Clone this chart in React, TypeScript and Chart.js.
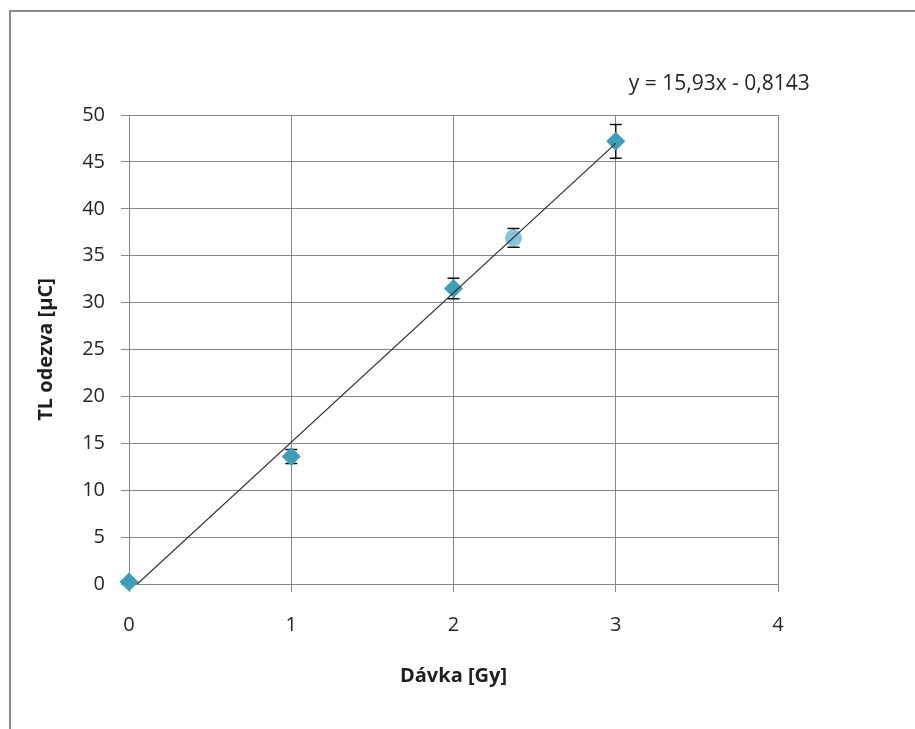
import React, { useEffect, useRef } from "react";
import { Chart, registerables } from "chart.js";

Chart.register(...registerables);

// Data
const doseValues = [0, 1, 2, 2.37, 3];
const responseValues = [0.2, 13.6, 31.5, 36.9, 47.2];
const errorValues = [0, 0.75, 1.1, 1.0, 1.8];
const trendSlope = 15.93;
const trendIntercept = -0.8143;
const trendRange = [0, 3];
const equationLabel = "y = 15,93x - 0,8143";
const xTitle = "Dávka [Gy]";
const yTitle = "TL odezva [µC]";

const FONT = "'Open Sans', Lato, sans-serif";
const GRID = "#878787";
const MARKER = "#3f9db6";
const TEXT = "#262626";

export default function App() {
  const ref = useRef<HTMLCanvasElement>(null);

  useEffect(() => {
    if (!ref.current) return;

    const frame = {
      id: "frame",
      beforeDraw(chart: any) {
        const { ctx } = chart;
        ctx.save();
        ctx.fillStyle = "#ffffff";
        ctx.fillRect(0, 0, chart.width, chart.height);
        ctx.strokeStyle = "#8c8c8c";
        ctx.lineWidth = 2;
        ctx.strokeRect(10, 11, chart.width + 20, chart.height + 20);
        ctx.restore();
      },
    };

    const errorBars = {
      id: "errorBars",
      beforeDatasetsDraw(chart: any) {
        const { ctx } = chart;
        const xs = chart.scales.x;
        const ys = chart.scales.y;
        ctx.save();
        ctx.strokeStyle = "#111111";
        ctx.lineWidth = 1.5;
        doseValues.forEach((d, i) => {
          const e = errorValues[i];
          if (!e) return;
          const px = xs.getPixelForValue(d);
          const top = ys.getPixelForValue(responseValues[i] + e);
          const bot = ys.getPixelForValue(responseValues[i] - e);
          ctx.beginPath();
          ctx.moveTo(px, top);
          ctx.lineTo(px, bot);
          ctx.moveTo(px - 6, top);
          ctx.lineTo(px + 6, top);
          ctx.moveTo(px - 6, bot);
          ctx.lineTo(px + 6, bot);
          ctx.stroke();
        });
        ctx.restore();
      },
    };

    const equation = {
      id: "equation",
      afterDraw(chart: any) {
        const { ctx } = chart;
        const xs = chart.scales.x;
        ctx.save();
        ctx.font = `21px ${FONT}`;
        ctx.fillStyle = TEXT;
        ctx.textAlign = "left";
        ctx.textBaseline = "middle";
        ctx.fillText(equationLabel, xs.getPixelForValue(3) + 13, chart.chartArea.top - 31);
        ctx.restore();
      },
    };

    const chart = new Chart(ref.current, {
      type: "scatter",
      data: {
        datasets: [
          {
            type: "line",
            label: "trend",
            data: trendRange.map((x) => ({ x, y: trendSlope * x + trendIntercept })),
            borderColor: "#2b2b2b",
            borderWidth: 1.2,
            pointRadius: 0,
            fill: false,
          } as any,
          {
            label: "TL odezva",
            data: doseValues.map((x, i) => ({ x, y: responseValues[i] })),
            pointStyle: doseValues.map((_, i) => (i === 3 ? "circle" : "rectRot")),
            pointRadius: doseValues.map((_, i) => (i === 3 ? 8.5 : 9.5)),
            backgroundColor: doseValues.map((_, i) => (i === 3 ? "#86c4d6" : MARKER)),
            borderColor: doseValues.map((_, i) => (i === 3 ? "#86c4d6" : MARKER)),
            borderWidth: 0,
            clip: false,
          } as any,
        ],
      },
      options: {
        responsive: false,
        animation: false,
        layout: { padding: { left: 0, top: 115, right: 137, bottom: 0 } },
        plugins: {
          legend: { display: false },
          tooltip: { enabled: false },
        },
        scales: {
          x: {
            type: "linear",
            min: 0,
            max: 4,
            ticks: {
              stepSize: 1,
              padding: 21,
              color: TEXT,
              font: { family: FONT, size: 20 },
            },
            grid: { color: GRID, tickLength: 8, lineWidth: 1 },
            border: { color: GRID, width: 1 },
            title: {
              display: true,
              text: xTitle,
              color: "#1e1e1e",
              font: { family: FONT, size: 20, weight: "bold" },
              padding: { top: 0, bottom: 41 },
            },
            afterFit: (s: any) => {
              s.height = 145;
            },
          },
          y: {
            type: "linear",
            min: 0,
            max: 50,
            ticks: {
              stepSize: 5,
              padding: 16,
              color: TEXT,
              font: { family: FONT, size: 20 },
            },
            grid: { color: GRID, tickLength: 8, lineWidth: 1 },
            border: { color: GRID, width: 1 },
            title: {
              display: true,
              text: yTitle,
              color: "#1e1e1e",
              font: { family: FONT, size: 20, weight: "bold" },
              padding: { top: 34, bottom: 0 },
            },
            afterFit: (s: any) => {
              s.width = 129;
            },
          },
        },
      },
      plugins: [frame, errorBars, equation],
    });

    return () => chart.destroy();
  }, []);

  return (
    <div style={{ position: "fixed", left: 0, top: 0, width: 915, height: 729, background: "#fff" }}>
      <canvas ref={ref} width={915} height={729} style={{ display: "block", width: 915, height: 729 }} />
    </div>
  );
}
